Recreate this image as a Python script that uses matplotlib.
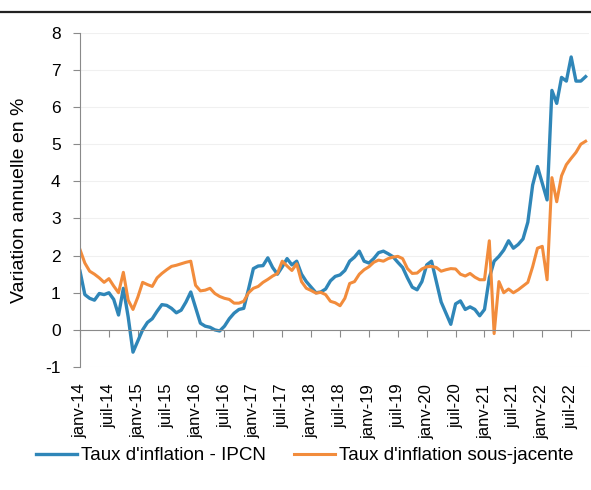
import matplotlib.pyplot as plt
from matplotlib.lines import Line2D

plt.rcParams['font.family'] = ['Liberation Sans', 'DejaVu Sans']
plt.rcParams['axes.unicode_minus'] = False

# Données mensuelles : janv-14 -> oct-22
ipcn = [1.58, 0.95, 0.85, 0.80, 0.98, 0.95, 1.00, 0.82, 0.40, 1.12, 0.35, -0.60,
        -0.30, 0.00, 0.20, 0.30, 0.50, 0.68, 0.66, 0.58, 0.46, 0.53, 0.75, 1.02,
        0.60, 0.18, 0.10, 0.07, 0.00, -0.03, 0.10, 0.30, 0.45, 0.55, 0.58, 1.10,
        1.65, 1.72, 1.73, 1.94, 1.68, 1.50, 1.70, 1.92, 1.75, 1.85, 1.50, 1.30,
        1.15, 1.00, 1.02, 1.10, 1.32, 1.44, 1.48, 1.60, 1.85, 1.96, 2.12, 1.85,
        1.80, 1.92, 2.08, 2.12, 2.05, 1.97, 1.82, 1.68, 1.40, 1.15, 1.08, 1.30,
        1.75, 1.85, 1.30, 0.75, 0.45, 0.15, 0.70, 0.78, 0.55, 0.62, 0.55, 0.38,
        0.55, 1.40, 1.85, 1.98, 2.15, 2.40, 2.20, 2.30, 2.45, 2.90, 3.90, 4.40,
        3.95, 3.50, 6.45, 6.10, 6.80, 6.70, 7.35, 6.70, 6.70, 6.82]

sous_jacente = [2.16, 1.80, 1.58, 1.50, 1.40, 1.28, 1.38, 1.18, 1.00, 1.55, 0.80, 0.55,
                0.88, 1.28, 1.22, 1.17, 1.40, 1.52, 1.62, 1.71, 1.74, 1.78, 1.82, 1.85,
                1.20, 1.05, 1.07, 1.12, 0.98, 0.90, 0.85, 0.82, 0.72, 0.72, 0.77, 1.00,
                1.12, 1.17, 1.28, 1.36, 1.45, 1.52, 1.85, 1.72, 1.60, 1.78, 1.30, 1.12,
                1.06, 0.99, 1.01, 0.95, 0.77, 0.73, 0.65, 0.85, 1.25, 1.30, 1.50, 1.62,
                1.70, 1.82, 1.88, 1.85, 1.92, 1.96, 1.98, 1.92, 1.65, 1.52, 1.53, 1.64,
                1.70, 1.71, 1.68, 1.58, 1.62, 1.65, 1.64, 1.50, 1.45, 1.52, 1.42, 1.35,
                1.35, 2.40, -0.10, 1.30, 1.00, 1.10, 1.00, 1.08, 1.18, 1.28, 1.70, 2.20,
                2.25, 1.35, 4.10, 3.45, 4.15, 4.45, 4.62, 4.78, 5.00, 5.08]

tick_labels = ['janv-14', 'juil-14', 'janv-15', 'juil-15', 'janv-16', 'juil-16',
               'janv-17', 'juil-17', 'janv-18', 'juil-18', 'janv-19', 'juil-19',
               'janv-20', 'juil-20', 'janv-21', 'juil-21', 'janv-22', 'juil-22']

months = list(range(len(ipcn)))
tick_pos = months[::6][:len(tick_labels)]

blue = '#2f86b8'
orange = '#f28c3c'

fig = plt.figure(figsize=(5.91, 4.90), dpi=100)
ax = fig.add_axes([0.1354, 0.251, 0.862, 0.682])

ax.plot(months, ipcn, color=blue, lw=2.4, label="Taux d'inflation - IPCN")
ax.plot(months, sous_jacente, color=orange, lw=2.2, label="Taux d'inflation sous-jacente")

ax.set_xlim(0, 105.8)
ax.set_ylim(-1, 8)
ax.set_yticks(range(-1, 9))
ax.yaxis.grid(True, color='#f0f0f0', lw=0.8)
ax.set_axisbelow(True)

for s in ['top', 'right']:
    ax.spines[s].set_visible(False)
ax.spines['left'].set_color('#8a8a8a')
ax.spines['bottom'].set_position(('data', 0))
ax.spines['bottom'].set_color('#8a8a8a')

ax.tick_params(axis='y', direction='out', length=5, color='#8a8a8a',
               labelsize=12.5, pad=9)
ax.set_xticks(tick_pos)
ax.tick_params(axis='x', direction='out', length=5, color='#8a8a8a',
               labelbottom=False)

# étiquettes de dates sous le graphique
sec = ax.secondary_xaxis('bottom')
sec.set_xticks(tick_pos)
sec.set_xticklabels(tick_labels, rotation=90, fontsize=12)
sec.tick_params(length=0, pad=12)
sec.spines['bottom'].set_visible(False)

ax.set_ylabel('Variation annuelle en %', fontsize=14, labelpad=12)

fig.legend(loc='center', bbox_to_anchor=(0.515, 0.070), ncol=2, frameon=False,
           fontsize=13.5, handlelength=2.2, handletextpad=0.2, columnspacing=1.5)

# trait noir en haut (bord du scan)
fig.add_artist(Line2D([0, 1], [0.975, 0.975], color='#222222', lw=1.6,
                      transform=fig.transFigure))

fig.savefig('out.png', dpi=100, facecolor='white')
